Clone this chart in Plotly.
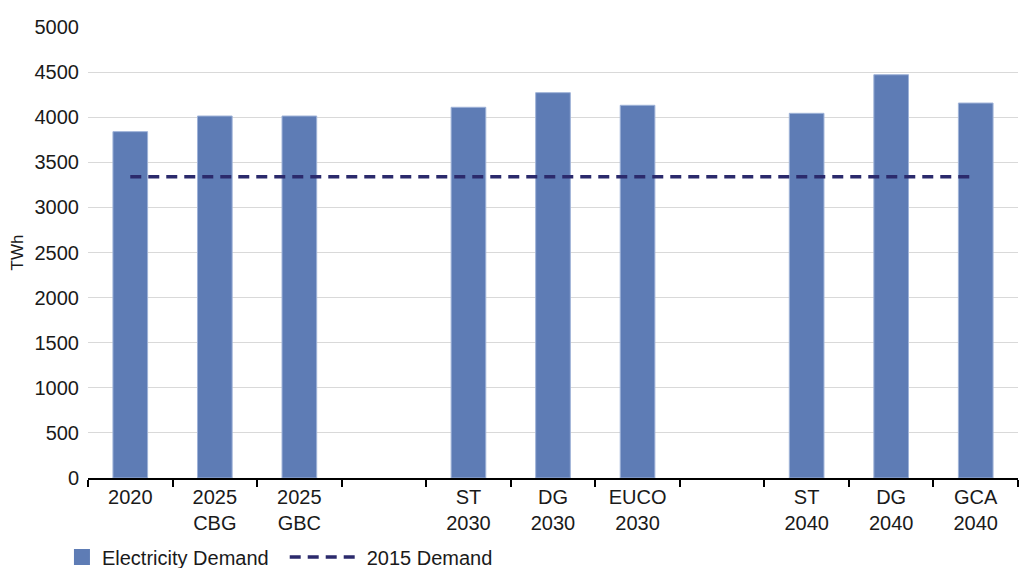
import plotly.graph_objects as go

categories = ["2020", "2025<br>CBG", "2025<br>GBC", " ", "ST<br>2030", "DG<br>2030",
              "EUCO<br>2030", "  ", "ST<br>2040", "DG<br>2040", "GCA<br>2040"]
demand = [3840, 4013, 4013, None, 4110, 4272, 4132, None, 4043, 4471, 4157]
demand_2015 = [3340] * len(categories)
y_ticks = [0, 500, 1000, 1500, 2000, 2500, 3000, 3500, 4000, 4500, 5000]

font_family = "Liberation Sans, Arial, sans-serif"
bar_color = "#5e7cb5"

fig = go.Figure()
fig.add_trace(go.Bar(
    x=categories, y=demand, name="Electricity Demand", showlegend=False,
    marker=dict(color=bar_color, line=dict(color="#9fb3d8", width=1)),
))
# legend entry for the bars (larger square swatch)
fig.add_trace(go.Scatter(
    x=[None], y=[None], name="Electricity Demand", mode="markers",
    marker=dict(symbol="square", size=20, color=bar_color), legend="legend",
))
fig.add_trace(go.Scatter(
    x=categories, y=demand_2015, name="2015 Demand", mode="lines",
    line=dict(color="#2b2a6c", width=3.5, dash="11px,7px"), legend="legend2",
))

fig.update_layout(
    width=1019, height=568,
    margin=dict(l=88, r=1, t=27, b=90),
    plot_bgcolor="white", paper_bgcolor="white",
    bargap=0.59,
    font=dict(family=font_family, size=20, color="#1a1a1a"),
    showlegend=True,
    legend=dict(orientation="h", xref="container", yref="container",
                x=0.0608, xanchor="left", y=0.0194, yanchor="middle",
                font=dict(size=20), itemwidth=30, bgcolor="rgba(0,0,0,0)"),
    legend2=dict(orientation="h", xref="container", yref="container",
                 x=0.2794, xanchor="left", y=0.0194, yanchor="middle",
                 font=dict(size=20), itemwidth=72, bgcolor="rgba(0,0,0,0)"),
)
fig.update_xaxes(
    type="category", tickson="boundaries", ticks="outside", ticklen=7, tickwidth=2,
    tickcolor="black", showline=True, linecolor="black", linewidth=2,
    showgrid=False, tickfont=dict(size=20), automargin=False,
)
fig.update_yaxes(
    range=[0, 5000], tickvals=y_ticks, showgrid=True, gridcolor="#d9d9d9", gridwidth=1,
    zeroline=False, showline=False, ticks="", ticklabelstandoff=8, automargin=False,
    title=dict(text="TWh", font=dict(size=17), standoff=6), tickfont=dict(size=20),
)

fig.write_html("out.html", config={"displayModeBar": False},
               post_script="document.body.style.margin='0';")
